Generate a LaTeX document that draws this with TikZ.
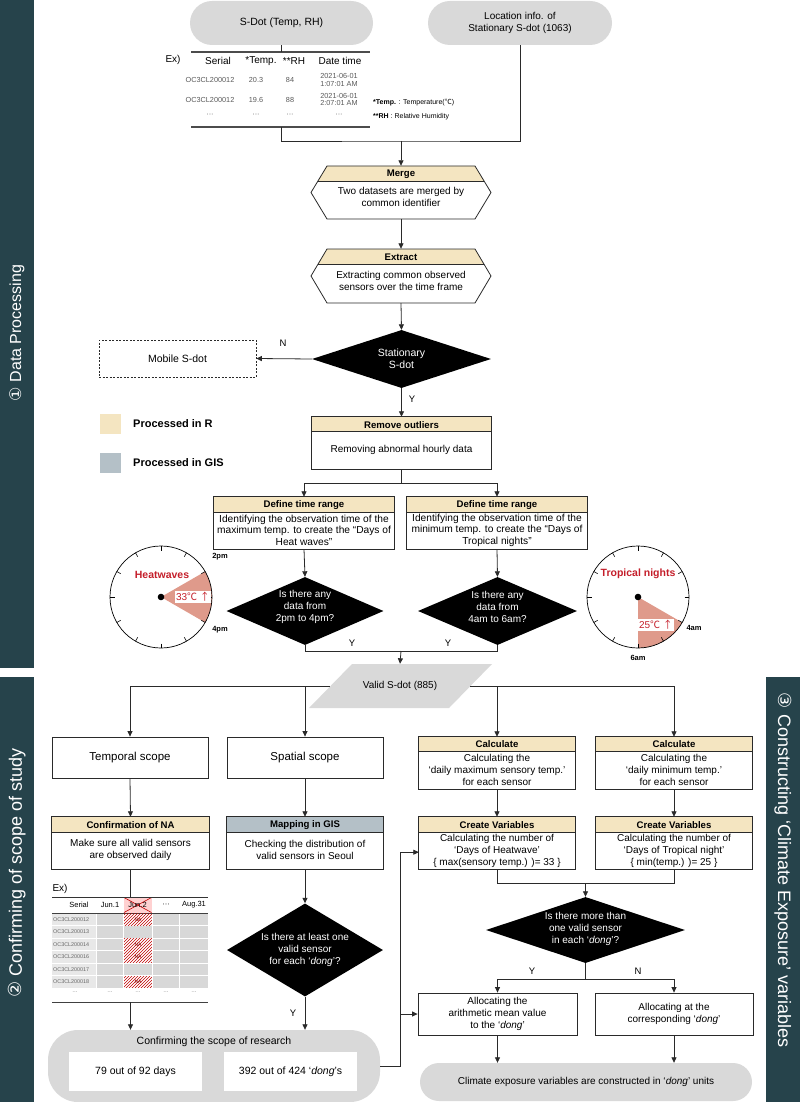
\documentclass[tikz,border=0pt]{standalone}
\usepackage{fontspec}
\setmainfont{Liberation Sans}
\newfontfamily\dejavu{DejaVu Sans}
\newfontfamily\cjkf{Noto Sans CJK KR}
\usetikzlibrary{arrows.meta,shapes.geometric,patterns,calc}
\definecolor{side}{HTML}{26434B}
\definecolor{beige}{HTML}{F4E5C1}
\definecolor{gisc}{HTML}{B4C0C7}
\definecolor{pillc}{HTML}{D9D9D9}
\definecolor{wedgec}{HTML}{DF9A8B}
\definecolor{redt}{HTML}{C41E2A}
\definecolor{lnc}{HTML}{2A2A2A}
\definecolor{cellg}{HTML}{D8D8D8}
\definecolor{celll}{HTML}{E8E8E8}
\newcommand{\fs}[2]{\fontsize{#1}{#2}\selectfont}
\newcommand{\hdrbox}[7]{%
 \node[fill=white,minimum width=#4,minimum height=#5,inner sep=0] (#1) at (#2,#3) {};
 \fill[#7] (#1.north west) rectangle ($(#1.north east)+(0,#6)$);
 \draw[ln] (#1.north west) rectangle (#1.south east);
 \draw[ln] ($(#1.north west)+(0,#6)$) -- ($(#1.north east)+(0,#6)$);
}
\begin{document}
\begin{tikzpicture}[x=1pt,y=-1pt,font=\fs{10}{11.7},
  ln/.style={draw=lnc,line width=0.8pt},
  arr/.style={draw=lnc,line width=0.8pt,-{Triangle[length=5.5pt,width=5pt]}},
  ttl/.style={font=\fs{9.6}{11}\bfseries,inner sep=0},
  bd/.style={align=center,inner sep=0},
  dia/.style={diamond,fill=black,inner sep=0},
  dtx/.style={text=white,align=center,inner sep=0},
  pl/.style={fill=pillc,inner sep=0},
  sm/.style={font=\fs{7.3}{7.6},text=black!65,inner sep=0,align=center},
  lbl/.style={font=\fs{9.5}{10},inner sep=0},
  tk/.style={line width=0.6pt},
  clk/.style={font=\fs{7.5}{8}\bfseries,inner sep=0},
  tiny/.style={font=\fs{5.4}{6},text=black!60,inner sep=0},
]
\path[use as bounding box] (0,0) rectangle (800,1102);

% ---------- sidebars
\fill[side] (0,0) rectangle (34,668);
\fill[side] (0,677) rectangle (34,1102);
\fill[side] (766,677) rectangle (800,1102);
\node[rotate=90,text=white,font=\fs{16}{16}] (sb1) at (17,333) {{\dejavu ①} Data Processing};
\node[rotate=90,text=white,font=\fs{18}{18}] (sb2) at (17,873) {{\dejavu ②} Confirming of scope of study};
\node[rotate=-90,text=white,font=\fs{18}{18}] (sb3) at (783,870) {{\dejavu ③} Constructing ‘Climate Exposure’ variables};

% ---------- top pills
\node[pl,rounded corners=22,minimum width=183,minimum height=44,font=\fs{10.5}{12}] (sdot) at (281.5,23) {S-Dot (Temp, RH)};
\node[pl,rounded corners=22,minimum width=184,minimum height=44,align=center] (loc) at (520,23) {Location info. of\\Stationary S-dot (1063)};

% ---------- example table top
\node[inner sep=0] (ex1) at (173,60) {Ex)};
\coordinate (t1top) at (281.5,52);
\coordinate (t1bot) at (281.5,127);
\draw[draw=black!70,line width=1.2pt] (191,52) -- (370,52);
\draw[draw=black!70,line width=1.2pt] (191,127) -- (370,127);
\node[inner sep=0] (h1) at (218,61) {Serial};
\node[inner sep=0] (h2) at (261,61) {*Temp.};
\node[inner sep=0] (h3) at (294,61) {**RH};
\node[inner sep=0] (h4) at (340,61) {Date time};
\node[sm] (r1a) at (210,80) {OC3CL200012};
\node[sm] (r1b) at (256,80) {20.3};
\node[sm] (r1c) at (290,80) {84};
\node[sm] (r1d) at (339,80) {2021-06-01\\1:07:01 AM};
\node[sm] (r2a) at (210,99.5) {OC3CL200012};
\node[sm] (r2b) at (256,99.5) {19.6};
\node[sm] (r2c) at (290,99.5) {88};
\node[sm] (r2d) at (339,99.5) {2021-06-01\\2:07:01 AM};
\node[sm] (r3a) at (210,115) {···};
\node[sm] (r3b) at (256,115) {···};
\node[sm] (r3c) at (290,115) {···};
\node[sm] (r3d) at (339,115) {···};
\node[anchor=west,font=\fs{7}{8},inner sep=0] (n1) at (373,103) {\textbf{*Temp.} : Temperature({\cjkf ℃})};
\node[anchor=west,font=\fs{7}{8},inner sep=0] (n2) at (373,117) {\textbf{**RH} : Relative Humidity};

\coordinate (j1) at (401,141);
\draw[ln] (sdot.south) -- (t1top);
\draw[ln] (t1bot) |- (j1) -| (loc.south);

% ---------- Merge hexagon
\node[inner sep=0,minimum width=180,minimum height=53] (merge) at (401,192.5) {};
\fill[white] (311,192.5) -- (327,166) -- (475,166) -- (491,192.5) -- (475,219) -- (327,219) -- cycle;
\fill[beige] (327,166) -- (475,166) -- (484.1,181) -- (317.9,181) -- cycle;
\draw[ln] (311,192.5) -- (327,166) -- (475,166) -- (491,192.5) -- (475,219) -- (327,219) -- cycle;
\draw[ln] (317.9,181) -- (484.1,181);
\node[ttl] (mt) at (401,174) {Merge};
\node[bd] (mb) at (401,197) {Two datasets are merged by\\common identifier};

% ---------- Extract hexagon
\node[inner sep=0,minimum width=180,minimum height=54] (extr) at (401,276) {};
\fill[white] (311,276) -- (327,249) -- (475,249) -- (491,276) -- (475,303) -- (327,303) -- cycle;
\fill[beige] (327,249) -- (475,249) -- (483.9,264) -- (318.1,264) -- cycle;
\draw[ln] (311,276) -- (327,249) -- (475,249) -- (491,276) -- (475,303) -- (327,303) -- cycle;
\draw[ln] (318.1,264) -- (483.9,264);
\node[ttl] (et) at (401,257) {Extract};
\node[bd] (eb) at (401,281) {Extracting common observed\\sensors over the time frame};

% ---------- Stationary diamond
\node[dia,minimum width=179,minimum height=58] (d1) at (401.5,359) {};
\node[dtx,font=\fs{10.5}{12}] (d1t) at (401.5,359) {Stationary\\S-dot};
\node[draw=lnc,dash pattern=on 2pt off 1.5pt,line width=0.7pt,minimum width=157,minimum height=37,inner sep=0,font=\fs{10.5}{12}] (mob) at (177.5,358.5) {Mobile S-dot};
\node[lbl] (nlab) at (283,343) {N};
\node[lbl] (ylab) at (412,399) {Y};

% ---------- legend
\fill[beige] (100,414) rectangle (121,434);
\fill[gisc] (100,453) rectangle (121,473);
\node[anchor=west,font=\fs{11}{12}\bfseries,inner sep=0] (lgr) at (133,424) {Processed in R};
\node[anchor=west,font=\fs{11}{12}\bfseries,inner sep=0] (lgg) at (133,463) {Processed in GIS};

% ---------- Remove outliers
\hdrbox{rmv}{401.5}{443}{179}{52}{15}{beige}
\node[ttl] (rt) at (401.5,425) {Remove outliers};
\node[bd] (rb) at (401.5,450) {Removing abnormal hourly data};

% ---------- define time range
\hdrbox{def1}{304}{523}{180}{52}{16}{beige}
\node[ttl] (d1h) at (304,505) {Define time range};
\node[bd,font=\fs{10.2}{11.5}] (d1b) at (304,530) {Identifying the observation time of the\\maximum temp. to create the “Days of\\Heat waves”};
\hdrbox{def2}{497}{523}{180}{52}{16}{beige}
\node[ttl] (d2h) at (497,505) {Define time range};
\node[bd,font=\fs{10.2}{11.5}] (d2b) at (497,530) {Identifying the observation time of the\\minimum temp. to create the “Days of\\Tropical nights”};

% ---------- time diamonds
\node[dia,minimum width=157,minimum height=68] (dh) at (305,611) {};
\node[dtx] (dht) at (305,607) {Is there any\\data from\\2pm to 4pm?};
\node[dia,minimum width=159,minimum height=68] (dt) at (497.5,611) {};
\node[dtx] (dtt) at (497.5,607) {Is there any\\data from\\4am to 6am?};
\node[lbl] (yh) at (352,643) {Y};
\node[lbl] (yt) at (448,643) {Y};

% ---------- clocks
\begin{scope}[shift={(161,597)},y=1pt]
 \fill[wedgec] (0,0) -- (30:51) arc[start angle=30,end angle=-30,radius=51] -- cycle;
 \draw[line width=0.7pt] (0,0) circle[radius=51];
 \foreach \a in {0,30,...,330} \draw[tk] (\a:46.5) -- (\a:51);
 \fill (0,0) circle[radius=3.3];
 \node[fill=white,inner sep=1pt,text=redt,font=\fs{10}{10}] (t33) at (32,0) {33{\cjkf ℃} {\cjkf ↑}};
 \node[text=redt,font=\fs{10.5}{11}\bfseries,inner sep=0] (hw) at (1,22) {Heatwaves};
 \node[clk] (p2) at (59,40) {2pm};
 \node[clk] (p4) at (59,-33) {4pm};
\end{scope}
\begin{scope}[shift={(638,597)},y=1pt]
 \fill[wedgec] (0,0) -- (-30:51) arc[start angle=-30,end angle=-90,radius=51] -- cycle;
 \draw[line width=0.7pt] (0,0) circle[radius=51];
 \foreach \a in {0,30,...,330} \draw[tk] (\a:46.5) -- (\a:51);
 \fill (0,0) circle[radius=3.3];
 \node[fill=white,inner sep=1pt,text=redt,font=\fs{10}{10}] (t25) at (18,-28) {25{\cjkf ℃} {\cjkf ↑}};
 \node[text=redt,font=\fs{10.5}{11}\bfseries,inner sep=0] (tn) at (0,23) {Tropical nights};
 \node[clk] (a4) at (56,-31) {4am};
 \node[clk] (a6) at (0,-61) {6am};
\end{scope}

% ---------- valid S-dot
\fill[pillc] (352,664) -- (492,664) -- (449,708) -- (309,708) -- cycle;
\node[inner sep=0,minimum width=140,minimum height=44] (valid) at (400,686) {Valid S-dot (885)};

% ---------- connectors, upper half
\coordinate (j2) at (401.5,483);
\coordinate (j3) at (401,651);
\draw[arr] (j1) -- (merge.north);
\draw[arr] (merge.south) -- (extr.north);
\draw[arr] (extr.south) -- (d1.north);
\draw[arr] (d1.west) -- (mob.east);
\draw[arr] (d1.south) -- (rmv.north);
\draw[ln] (rmv.south) -- (j2);
\draw[arr] (j2) -| (def1.north);
\draw[arr] (j2) -| (def2.north);
\draw[arr] (def1.south) -- (dh.north);
\draw[arr] (def2.south) -- (dt.north);
\draw[ln] (dh.south) |- (j3);
\draw[ln] (dt.south) |- (j3);
\draw[arr] (j3) -- (valid.north);

% ---------- section 2 boxes
\node[fill=white,draw=lnc,line width=0.8pt,minimum width=156,minimum height=41,inner sep=0,font=\fs{11.5}{13}] (temp) at (130,757.5) {Temporal scope};
\node[fill=white,draw=lnc,line width=0.8pt,minimum width=156,minimum height=41,inner sep=0,font=\fs{11.5}{13}] (spat) at (305,757.5) {Spatial scope};
\hdrbox{cna}{130.5}{843}{157}{52}{16}{beige}
\node[ttl] (cnat) at (130.5,825) {Confirmation of NA};
\node[bd] (cnab) at (130.5,850) {Make sure all valid sensors\\are observed daily};
\hdrbox{gis}{305}{843}{156}{52}{16}{gisc}
\node[ttl] (gist) at (305,825) {Mapping in GIS};
\node[bd] (gisb) at (305,850) {Checking the distribution of\\valid sensors in Seoul};

% ---------- NA table
\node[inner sep=0] (ex2) at (60,889) {Ex)};
\fill[red!18] (124,897.5) rectangle (151.5,912.5);
\draw[red!75!black,line width=0.6pt] (124,897.5) -- (151.5,912.5);
\draw[red!75!black,line width=0.6pt] (124,912.5) -- (151.5,897.5);
\draw[draw=black!80,line width=0.5pt] (52,897) -- (208,897);
\node[font=\fs{7.5}{8},inner sep=0] (c0) at (79,905) {Serial};
\node[font=\fs{7.5}{8},inner sep=0] (c1) at (110,905) {Jun.1};
\node[font=\fs{7.5}{8},inner sep=0] (c2) at (137.5,905) {Jun.2};
\node[font=\fs{7.5}{8},inner sep=0] (c3) at (166,905) {···};
\node[font=\fs{7.5}{8},inner sep=0] (c4) at (194,905) {Aug.31};
\draw[draw=black!75,line width=1pt] (52,913) -- (208,913);
\foreach \r/\s in {0/12,1/13,2/14,3/16,4/17,5/18} {
  \pgfmathsetmacro\ya{913.6+12.5*\r}
  \pgfmathsetmacro\yb{\ya+11.6}
  \fill[celll] (52,\ya) rectangle (96.4,\yb);
  \fill[cellg] (97.2,\ya) rectangle (123.4,\yb);
  \fill[cellg] (152.6,\ya) rectangle (179.2,\yb);
  \fill[cellg] (180,\ya) rectangle (207.6,\yb);
  \node[tiny,anchor=west] (s\r) at (53,\ya+5.8) {OC3CL2000\s};
}
\foreach \r in {1,4} {
  \pgfmathsetmacro\ya{913.6+12.5*\r}
  \fill[cellg] (124.2,\ya) rectangle (151.8,\ya+11.6);
}
\foreach \r in {0,2,3,5} {
  \pgfmathsetmacro\ya{913.6+12.5*\r}
  \fill[pattern=north east lines,pattern color=red!75!black] (124.2,\ya) rectangle (151.8,\ya+11.6);
  \node[font=\fs{5}{6},text=red!50!black,inner sep=0] (na\r) at (138,\ya+5.8) {NA};
}
\node[tiny] (e0) at (75,993) {···};
\node[tiny] (e1) at (110,993) {···};
\node[tiny] (e2) at (138,993) {···};
\node[tiny] (e3) at (166,993) {···};
\node[tiny] (e4) at (194,993) {···};
\draw[draw=black!75,line width=1pt] (52,1002) -- (208,1002);
\coordinate (tbltop) at (130.5,897);
\coordinate (tblbot) at (130.5,1002);

% ---------- diamond at least one
\node[dia,minimum width=156,minimum height=93] (d3) at (305,950) {};
\node[dtx] (d3t) at (305,950) {Is there at least one\\valid sensor\\for each ‘\textit{dong}’?};
\node[lbl] (y3) at (293,1013) {Y};

% ---------- scope pill
\node[pl,rounded corners=30,minimum width=332,minimum height=72] (scope) at (214,1066) {};
\node[inner sep=0,font=\fs{10.5}{12}] (scopet) at (214,1042) {Confirming the scope of research};
\node[fill=white,minimum width=133,minimum height=39,inner sep=0,font=\fs{10.5}{12}] (d79) at (135.5,1071.5) {79 out of 92 days};
\node[fill=white,minimum width=133,minimum height=39,inner sep=0,font=\fs{10.5}{12}] (d392) at (290.5,1071.5) {392 out of 424 ‘\textit{dong}’s};

% ---------- section 3
\hdrbox{calc1}{497}{763}{156}{52}{15}{beige}
\node[ttl] (c1t) at (497,744.5) {Calculate};
\node[bd] (c1b) at (497,770) {Calculating the\\‘daily maximum sensory temp.’\\for each sensor};
\hdrbox{calc2}{674}{763}{156}{52}{15}{beige}
\node[ttl] (c2t) at (674,744.5) {Calculate};
\node[bd] (c2b) at (674,770) {Calculating the\\‘daily minimum temp.’\\for each sensor};
\hdrbox{cv1}{497}{843}{156}{52}{16}{beige}
\node[ttl] (v1t) at (497,825) {Create Variables};
\node[bd] (v1b) at (497,851) {Calculating the number of\\‘Days of Heatwave’\\\{ max(sensory temp.) )= 33 \}};
\hdrbox{cv2}{674}{843}{156}{52}{16}{beige}
\node[ttl] (v2t) at (674,825) {Create Variables};
\node[bd] (v2b) at (674,851) {Calculating the number of\\‘Days of Tropical night’\\\{ min(temp.) )= 25 \}};

\node[dia,minimum width=199,minimum height=66] (d4) at (585.5,930) {};
\node[dtx] (d4t) at (585.5,929) {Is there more than\\one valid sensor\\in each ‘\textit{dong}’?};
\node[lbl] (y4) at (532,971) {Y};
\node[lbl] (n4) at (638,971) {N};

\node[fill=white,draw=lnc,line width=0.8pt,minimum width=159,minimum height=42,inner sep=0,align=center] (al1) at (497.5,1014) {Allocating the\\arithmetic mean value\\to the ‘\textit{dong}’};
\node[fill=white,draw=lnc,line width=0.8pt,minimum width=158,minimum height=42,inner sep=0,align=center] (al2) at (674,1014) {Allocating at the\\corresponding ‘\textit{dong}’};

\node[pl,rounded corners=19,minimum width=332,minimum height=38] (fin) at (586,1082) {Climate exposure variables are constructed in ‘\textit{dong}’ units};

% ---------- connectors, lower half
\coordinate (j5) at (585.5,883);
\coordinate (j4) at (585.5,979);
\coordinate (bus) at (400,1066);
\draw[arr] (valid.west) -| (temp.north);
\draw[arr] (valid.west -| spat.north) -- (spat.north);
\draw[arr] (valid.east) -| (calc2.north);
\draw[arr] (valid.east -| calc1.north) -- (calc1.north);
\draw[arr] (temp.south) -- (cna.north);
\draw[arr] (spat.south) -- (gis.north);
\draw[arr] (calc1.south) -- (cv1.north);
\draw[arr] (calc2.south) -- (cv2.north);
\draw[ln] (cna.south) -- (tbltop);
\draw[arr] (tblbot) -- (tblbot |- scope.north);
\draw[arr] (gis.south) -- (d3.north);
\draw[arr] (d3.south) -- (d3.south |- scope.north);
\draw[arr] (scope.east) -- (bus) |- ($(cv1.south west)+(0,-17)$);
\draw[arr] (bus |- al1.west) -- (al1.west);
\draw[ln] (cv1.south) |- (j5) -| (cv2.south);
\draw[arr] (j5) -- (d4.north);
\draw[ln] (d4.south) -- (j4);
\draw[arr] (j4) -| (al1.north);
\draw[arr] (j4) -| (al2.north);
\draw[arr] (al1.south) -- (al1.south |- fin.north);
\draw[arr] (al2.south) -- (al2.south |- fin.north);
\end{tikzpicture}
\end{document}
